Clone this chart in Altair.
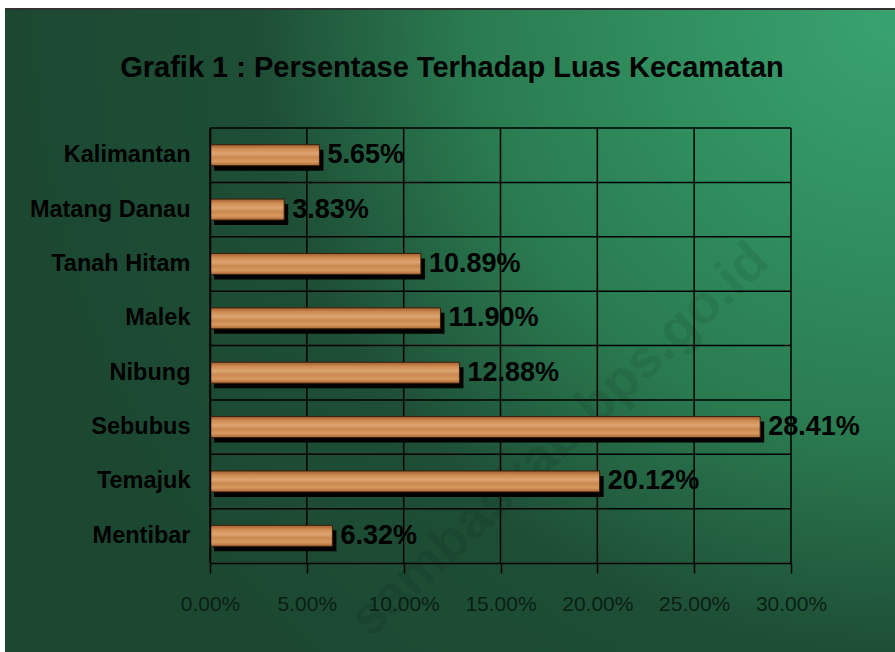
import altair as alt
import pandas as pd

categories = ["Kalimantan", "Matang Danau", "Tanah Hitam", "Malek", "Nibung", "Sebubus", "Temajuk", "Mentibar"]
values = [5.65, 3.83, 10.89, 11.90, 12.88, 28.41, 20.12, 6.32]
tick_values = [0, 5, 10, 15, 20, 25, 30]
title_text = "Grafik 1 : Persentase Terhadap Luas Kecamatan"
watermark = "sambaskab.bps.go.id"

df = pd.DataFrame({"kecamatan": categories, "persen": values})
ticks_df = pd.DataFrame({"t": tick_values})

W, H = 581, 435
FONT = "Liberation Sans, Arial, sans-serif"

xscale = alt.Scale(domain=[0, 30], nice=False, zero=True)
yscale = alt.Scale(domain=categories, paddingInner=0, paddingOuter=0)

# background: radial glow from the top-right corner
bg = alt.Chart(df).mark_rect(
    color=alt.RadialGradient(
        gradient="radial", x1=1, y1=0.139, r1=0, x2=1, y2=0.139, r2=1,
        stops=[alt.GradientStop(color="#38a370", offset=0),
               alt.GradientStop(color="#2f8b5c", offset=0.3),
               alt.GradientStop(color="#2a7a50", offset=0.48),
               alt.GradientStop(color="#1e4e36", offset=0.72),
               alt.GradientStop(color="#1c4832", offset=1)]
    )
).encode(x=alt.value(-205), x2=alt.value(685), y=alt.value(-118), y2=alt.value(524))

top_line = alt.Chart(df).mark_rule(color="#333333", strokeWidth=2).encode(
    x=alt.value(-205), x2=alt.value(685), y=alt.value(-119)
)

title = alt.Chart(pd.DataFrame({"t": [title_text]})).mark_text(
    font=FONT, fontSize=29, fontWeight="bold", color="black", align="center", baseline="alphabetic"
).encode(text="t:N", x=alt.value(242), y=alt.value(-51))

wm = alt.Chart(pd.DataFrame({"w": [watermark]})).mark_text(
    font=FONT, fontSize=54, fontWeight="bold", color="black", opacity=0.07, angle=317,
    align="center", baseline="middle"
).encode(text="w:N", x=alt.value(350), y=alt.value(312))

vgrid = alt.Chart(ticks_df).mark_rule(color="black", strokeWidth=1.5).encode(
    x=alt.X("t:Q", scale=xscale), y=alt.value(0), y2=alt.value(H)
)

hgrid = alt.Chart(df).mark_rule(color="black", strokeWidth=1.5).encode(
    y=alt.Y("kecamatan:N", scale=yscale, sort=categories, bandPosition=0),
    x=alt.datum(0, scale=xscale), x2=alt.datum(30)
)

shadow = alt.Chart(df).mark_bar(color="black", size=21, xOffset=4, yOffset=5).encode(
    y=alt.Y("kecamatan:N", scale=yscale, sort=categories),
    x=alt.X("persen:Q", scale=xscale)
)

wood = alt.Chart(df).mark_bar(
    size=21, stroke="#3a1e0a", strokeWidth=1,
    color=alt.LinearGradient(
        gradient="linear", x1=0, y1=0, x2=0, y2=1,
        stops=[alt.GradientStop(color="#a05e32", offset=0),
               alt.GradientStop(color="#cf8c52", offset=0.2),
               alt.GradientStop(color="#dda470", offset=0.42),
               alt.GradientStop(color="#c9884f", offset=0.6),
               alt.GradientStop(color="#d89a60", offset=0.8),
               alt.GradientStop(color="#aa6636", offset=1)]
    )
).encode(
    y=alt.Y("kecamatan:N", scale=yscale, sort=categories,
            axis=alt.Axis(title=None, ticks=False, grid=False, domain=True, domainColor="black",
                          domainWidth=1.5, labelFont=FONT, labelFontSize=23.5, labelFontWeight="bold",
                          labelColor="black", labelPadding=20, labelLimit=400, zindex=1)),
    x=alt.X("persen:Q", scale=xscale,
            axis=alt.Axis(title=None, values=tick_values, grid=False, ticks=True, tickSize=10,
                          tickColor="black", tickWidth=1.5, domain=True, domainColor="black",
                          domainWidth=1.5, labelFont=FONT, labelFontSize=21, labelFontWeight="normal",
                          labelColor="#0a1f14", labelPadding=20, labelOverlap=False, labelFlush=False,
                          labelExpr="format(datum.value, '.2f') + '%'", zindex=1))
)

labels = alt.Chart(df).transform_calculate(
    lbl="format(datum.persen, '.2f') + '%'"
).mark_text(
    font=FONT, fontSize=27, fontWeight="bold", color="black", align="left", baseline="middle", dx=8
).encode(
    y=alt.Y("kecamatan:N", scale=yscale, sort=categories),
    x=alt.X("persen:Q", scale=xscale),
    text="lbl:N"
)

chart = alt.layer(bg, top_line, title, wm, vgrid, hgrid, shadow, wood, labels).properties(
    width=W, height=H,
    autosize=alt.AutoSizeParams(type="none"),
    padding={"left": 210, "top": 128, "right": 104, "bottom": 89},
    background="white"
).configure_view(stroke=None)

chart.save("out.html", embed_options={"renderer": "svg", "actions": False})
